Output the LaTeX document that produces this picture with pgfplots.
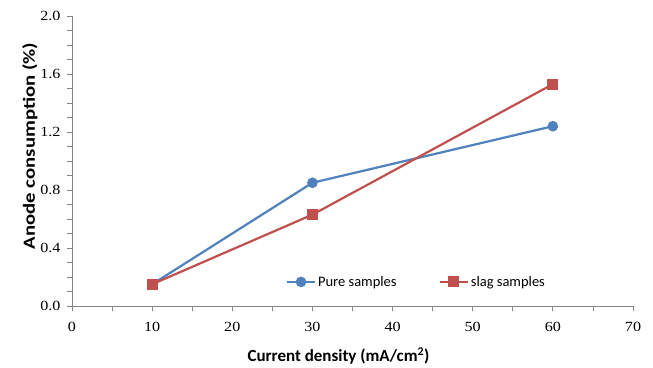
\documentclass[border=0pt]{standalone}
\usepackage{pgfplots}
\pgfplotsset{compat=1.18}
\usepackage{fontspec}
\setmainfont{Carlito}
\newfontfamily\tickfont[FakeStretch=1.15]{Liberation Serif}
\newfontfamily\ylabfont[FakeStretch=1.22]{Carlito}
\definecolor{exblue}{HTML}{4F81BD}
\definecolor{exred}{HTML}{C0504D}
\definecolor{axgray}{HTML}{868686}
\begin{document}
\begin{tikzpicture}
\begin{axis}[
  at={(0pt,0pt)}, anchor=south west,
  scale only axis, width=561pt, height=290pt,
  xmin=0, xmax=70, ymin=0, ymax=2.0,
  xtick={0,10,...,70}, ytick={0,0.4,...,2.0},
  minor x tick num=1, minor y tick num=3,
  axis lines*=left,
  axis line style={axgray, line width=0.8pt},
  tick style={axgray, line width=0.8pt},
  tick align=outside,
  major tick length=5pt, minor tick length=5pt,
  /pgf/number format/assume math mode=true,
  tick label style={font=\tickfont\fontsize{14}{16}\selectfont, black},
  xticklabel style={yshift=-8pt},
  yticklabel style={xshift=-3pt, /pgf/number format/fixed, /pgf/number format/fixed zerofill, /pgf/number format/precision=1},
  xlabel={\bfseries Current density (mA/cm\textsuperscript{2})},
  ylabel={\ylabfont\bfseries Anode consumption (\%)},
  label style={font=\fontsize{17}{19}\selectfont},
  xlabel style={at={(rel axis cs:0.475,0)}, anchor=north, yshift=-38pt},
  ylabel style={at={(rel axis cs:0,0.552)}, anchor=base, yshift=37pt},
  legend style={at={(rel axis cs:0.381,0.083)}, anchor=west, draw=none, fill=none, inner sep=0pt,
    font=\fontsize{14.5}{16}\selectfont, legend columns=2,
    nodes={inner sep=2pt},
    /tikz/every even column/.append style={column sep=40pt}},
  legend image code/.code={
    \draw[#1, mark=none] (0pt,0pt) -- (28pt,0pt);
    \draw[#1, only marks] plot coordinates {(14pt,0pt)};
  },
]
\addplot[exblue, line width=2.2pt, mark=*, mark size=4.8pt, mark options={solid, fill=exblue, line width=1pt}]
  coordinates {(10,0.15) (30,0.85) (60,1.24)};
\addlegendentry{Pure samples}
\addplot[exred, line width=2.2pt, mark=square*, mark size=5pt, mark options={solid, fill=exred, line width=1pt}]
  coordinates {(10,0.15) (30,0.63) (60,1.53)};
\addlegendentry{slag samples}
\end{axis}
\pgfresetboundingbox
\path (-72pt,-61pt) rectangle (581pt,306pt);
\end{tikzpicture}
\end{document}
